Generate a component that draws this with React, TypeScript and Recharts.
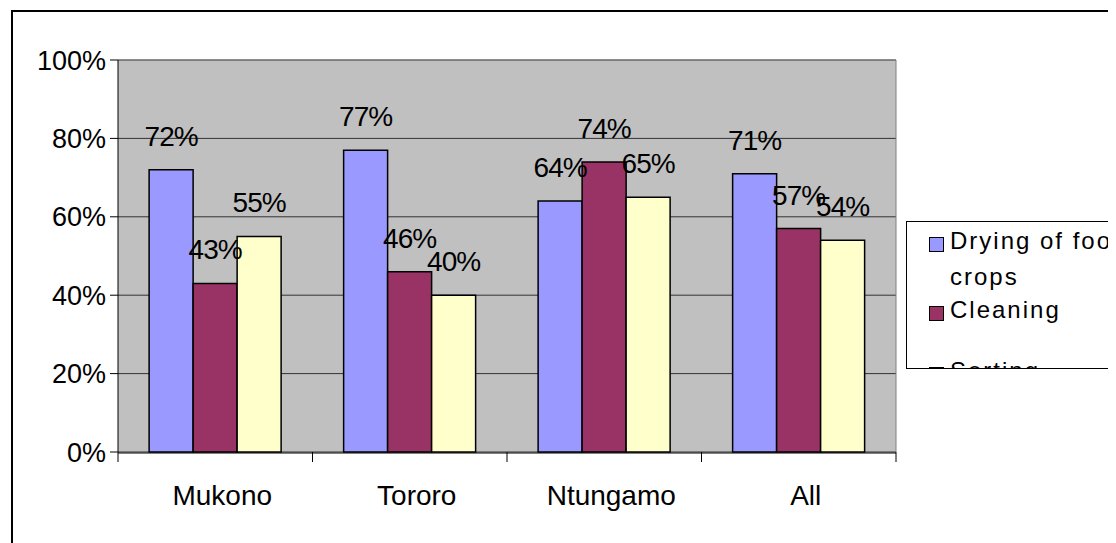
import { Bar, BarChart, CartesianGrid, LabelList, ReferenceLine, XAxis, YAxis } from 'recharts';

const districts = ['Mukono', 'Tororo', 'Ntungamo', 'All'];
const drying = [72, 77, 64, 71];
const cleaning = [43, 46, 74, 57];
const sorting = [55, 40, 65, 54];
const yTicks = [0, 20, 40, 60, 80, 100];
const boundaryTicks = [0, 1, 2, 3, 4];

const seriesList = [
  { key: 'drying', name: 'Drying of food crops', color: '#9999FF' },
  { key: 'cleaning', name: 'Cleaning', color: '#993366' },
  { key: 'sorting', name: 'Sorting', color: '#FFFFCC' },
];

const data = districts.map((d, i) => ({
  name: d,
  pos: i + 0.5,
  drying: drying[i],
  cleaning: cleaning[i],
  sorting: sorting[i],
}));

const FONT = '"Liberation Sans", Arial, sans-serif';

function ValueLabel(props: any) {
  const { x, y, width, value } = props;
  return (
    <text
      x={x + width / 2}
      y={y - 24}
      textAnchor="middle"
      fontSize={28}
      letterSpacing={-1}
      fill="#000"
      fontFamily={FONT}
    >
      {value}%
    </text>
  );
}

function CategoryTick(props: any) {
  const { x, y, payload } = props;
  return (
    <text x={x + 7} y={y + 44} textAnchor="middle" fontSize={28} fill="#000" fontFamily={FONT}>
      {payload.value}
    </text>
  );
}

// legend item tops, relative to the legend box
const legendTops = [1, 70, 131];

export default function App() {
  return (
    <div style={{ position: 'relative', width: 1108, height: 535, overflow: 'hidden', fontFamily: FONT, background: '#fff' }}>
      <div
        style={{
          position: 'absolute',
          left: 3,
          top: 2,
          width: 1300,
          height: 800,
          border: '2px solid #000',
        }}
      />
      <div style={{ position: 'absolute', left: 0, top: 0 }}>
        <BarChart
          width={1108}
          height={535}
          data={data}
          margin={{ top: 52, right: 219, left: 10, bottom: 30 }}
          barCategoryGap="16%"
          barGap={0}
        >
          <CartesianGrid xAxisId="cat" vertical={false} stroke="#333" fill="#C0C0C0" />
          <XAxis
            xAxisId={0}
            type="number"
            dataKey="pos"
            domain={[0, 4]}
            allowDataOverflow
            ticks={boundaryTicks}
            tickFormatter={() => ''}
            tick={{ fontSize: 1 }}
            tickSize={10}
            axisLine={false}
            tickLine={{ stroke: '#000' }}
            height={1}
            interval={0}
          />
          <XAxis
            xAxisId="cat"
            dataKey="name"
            tick={<CategoryTick />}
            tickLine={false}
            axisLine={{ stroke: '#000' }}
            height={60}
            interval={0}
          />
          <YAxis
            domain={[0, 100]}
            ticks={yTicks}
            tickFormatter={(v) => `${v}%`}
            tick={{ fontSize: 27, fill: '#000', fontFamily: FONT }}
            tickSize={8}
            tickMargin={4}
            axisLine={{ stroke: '#000' }}
            tickLine={{ stroke: '#000' }}
            width={100}
            interval={0}
          />
          <YAxis
            yAxisId="r"
            orientation="right"
            domain={[0, 100]}
            tick={false}
            tickLine={false}
            axisLine={{ stroke: '#808080' }}
            width={1}
          />
          <ReferenceLine xAxisId="cat" y={100} stroke="#808080" />
          {seriesList.map((s) => (
            <Bar
              key={s.key}
              xAxisId="cat"
              dataKey={s.key}
              name={s.name}
              fill={s.color}
              stroke="#000"
              strokeWidth={1.5}
              isAnimationActive={false}
            >
              <LabelList dataKey={s.key} content={<ValueLabel />} />
            </Bar>
          ))}
        </BarChart>
      </div>
      <div
        style={{
          position: 'absolute',
          left: 898,
          top: 213,
          width: 260,
          height: 146,
          border: '1px solid #000',
          background: '#fff',
          overflow: 'hidden',
        }}
      >
        {seriesList.map((s, i) => (
          <div key={s.key} style={{ position: 'absolute', left: 0, top: legendTops[i], width: 260 }}>
            <div
              style={{
                position: 'absolute',
                left: 22,
                top: 14,
                width: 13,
                height: 13,
                background: s.color,
                border: '1px solid #000',
              }}
            />
            <div
              style={{
                position: 'absolute',
                left: 43,
                top: 0,
                width: 192,
                fontSize: 24,
                lineHeight: '36px',
                letterSpacing: 2,
                color: '#000',
              }}
            >
              {s.name}
            </div>
          </div>
        ))}
      </div>
    </div>
  );
}
